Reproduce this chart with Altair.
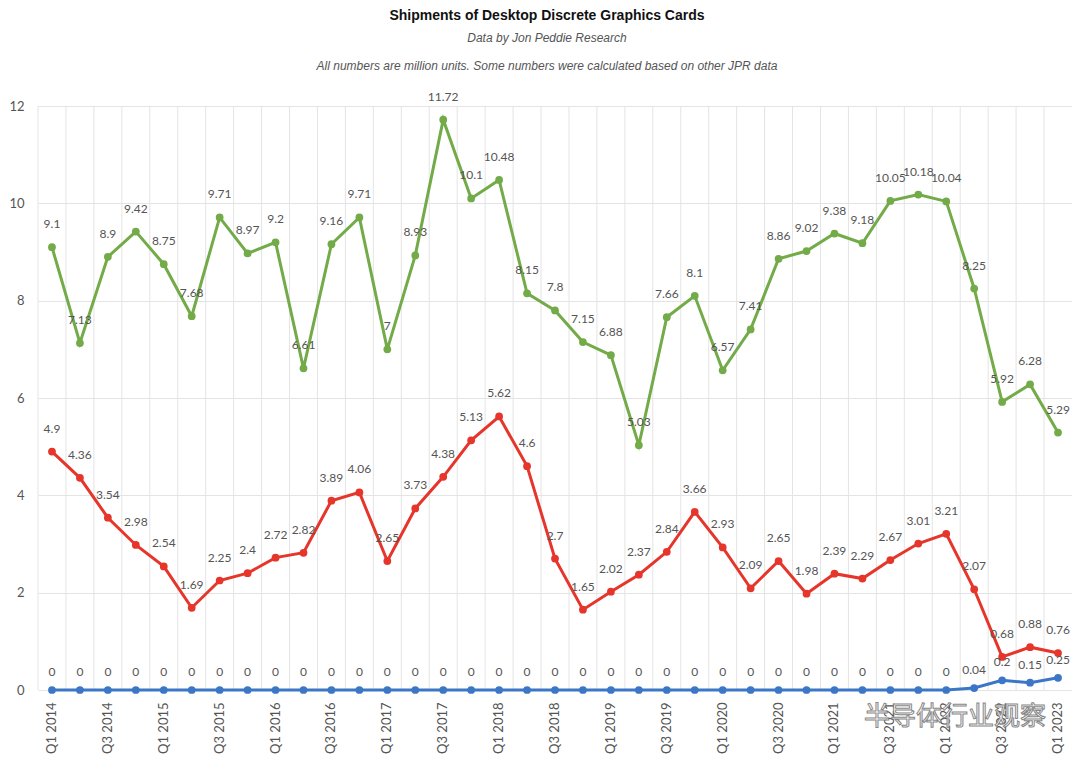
import altair as alt
import pandas as pd

quarters = [
    "Q1 2014", "Q2 2014", "Q3 2014", "Q4 2014",
    "Q1 2015", "Q2 2015", "Q3 2015", "Q4 2015",
    "Q1 2016", "Q2 2016", "Q3 2016", "Q4 2016",
    "Q1 2017", "Q2 2017", "Q3 2017", "Q4 2017",
    "Q1 2018", "Q2 2018", "Q3 2018", "Q4 2018",
    "Q1 2019", "Q2 2019", "Q3 2019", "Q4 2019",
    "Q1 2020", "Q2 2020", "Q3 2020", "Q4 2020",
    "Q1 2021", "Q2 2021", "Q3 2021", "Q4 2021",
    "Q1 2022", "Q2 2022", "Q3 2022", "Q4 2022",
    "Q1 2023",
]

nvidia = [9.1, 7.13, 8.9, 9.42, 8.75, 7.68, 9.71, 8.97, 9.2, 6.61, 9.16, 9.71,
          7, 8.93, 11.72, 10.1, 10.48, 8.15, 7.8, 7.15, 6.88, 5.03, 7.66, 8.1,
          6.57, 7.41, 8.86, 9.02, 9.38, 9.18, 10.05, 10.18, 10.04, 8.25, 5.92,
          6.28, 5.29]
amd = [4.9, 4.36, 3.54, 2.98, 2.54, 1.69, 2.25, 2.4, 2.72, 2.82, 3.89, 4.06,
       2.65, 3.73, 4.38, 5.13, 5.62, 4.6, 2.7, 1.65, 2.02, 2.37, 2.84, 3.66,
       2.93, 2.09, 2.65, 1.98, 2.39, 2.29, 2.67, 3.01, 3.21, 2.07, 0.68, 0.88,
       0.76]
intel = [0, 0, 0, 0, 0, 0, 0, 0, 0, 0, 0, 0,
         0, 0, 0, 0, 0, 0, 0, 0, 0, 0, 0, 0,
         0, 0, 0, 0, 0, 0, 0, 0, 0, 0.04, 0.2, 0.15,
         0.25]

series_names = ["Nvidia", "AMD", "Intel"]
series_colors = ["#72AB48", "#E6352B", "#3B77C6"]
tick_labels = quarters[::2]
y_ticks = [0, 2, 4, 6, 8, 10, 12]

rows = []
for name, vals in zip(series_names, [nvidia, amd, intel]):
    for q, v in zip(quarters, vals):
        rows.append({"quarter": q, "series": name, "value": v,
                     "label": ("%g" % v)})
df = pd.DataFrame(rows)
qdf = pd.DataFrame({"quarter": quarters})

FONT = "Lato"
LABEL_COLOR = "#555555"
GRID = "#e4e4e4"

x_scale = alt.Scale(type="band", domain=quarters, paddingInner=0, paddingOuter=0)
y_scale = alt.Scale(domain=[0, 12])

x_enc = alt.X(
    "quarter:N", scale=x_scale, sort=quarters,
    axis=alt.Axis(values=tick_labels, labelAngle=270, grid=False, ticks=False,
                  domain=False, title=None, labelColor=LABEL_COLOR,
                  labelFont=FONT, labelFontSize=13, labelPadding=12),
)
y_enc = alt.Y(
    "value:Q", scale=y_scale,
    axis=alt.Axis(values=y_ticks, grid=True, gridColor=GRID, domain=False,
                  ticks=False, title=None, labelColor=LABEL_COLOR,
                  labelFont=FONT, labelFontSize=13, labelPadding=14),
)
color_enc = alt.Color("series:N",
                      scale=alt.Scale(domain=series_names, range=series_colors),
                      legend=None)

vgrid = alt.Chart(qdf).mark_rule(color=GRID, strokeWidth=1).encode(
    x=alt.X("quarter:N", scale=x_scale, sort=quarters, bandPosition=0)
)

base = alt.Chart(df).encode(x=x_enc, y=y_enc, color=color_enc,
                            detail="series:N")

lines = base.mark_line(strokeWidth=3)
points = base.mark_circle(size=60, opacity=1)

labels_big = base.transform_filter(alt.datum.series != "Intel").mark_text(
    dy=-23, fontSize=12, font=FONT, color=LABEL_COLOR
).encode(text="label:N", color=alt.value(LABEL_COLOR))
labels_small = base.transform_filter(alt.datum.series == "Intel").mark_text(
    dy=-18, fontSize=12, font=FONT, color=LABEL_COLOR
).encode(text="label:N", color=alt.value(LABEL_COLOR))

watermark = alt.Chart(pd.DataFrame({"t": ["半导体行业观察"]})).mark_text(
    fontSize=26, font="Noto Sans CJK SC", fill="#ffffff", stroke="#7a7a7a",
    strokeWidth=1, align="center", baseline="middle", opacity=0.9
).encode(text="t:N", x=alt.value(917), y=alt.value(611))

chart = alt.layer(vgrid, lines, points, labels_big, labels_small, watermark).properties(
    width=1034,
    height=584,
    padding={"left": 0, "top": 0, "right": 0, "bottom": 0},
    title=alt.TitleParams(
        text="Shipments of Desktop Discrete Graphics Cards",
        subtitle=["Data by Jon Peddie Research",
                  "All numbers are million units. Some numbers were calculated based on other JPR data"],
        font="Liberation Sans", fontSize=14, fontWeight="bold", color="#111111",
        subtitleFont="Liberation Sans", subtitleFontStyle="italic",
        subtitleFontSize=12, subtitleColor="#555555", subtitleLineHeight=28,
        subtitlePadding=10, offset=19, anchor="middle", dx=-8,
    ),
).configure_view(stroke=None)

chart.save("out.html", embed_options={"renderer": "svg", "actions": False})
